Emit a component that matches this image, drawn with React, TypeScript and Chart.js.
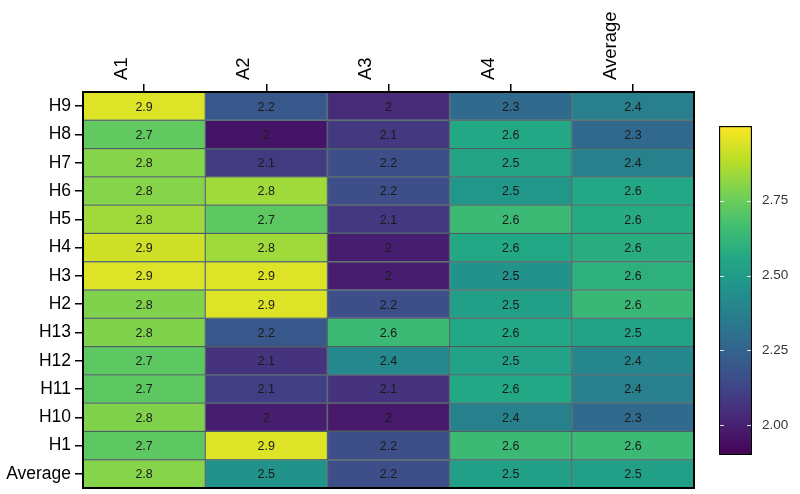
import React, { useEffect, useRef } from "react";
import { Chart, registerables } from "chart.js";

Chart.register(...registerables);

const rowLabels = ["H9", "H8", "H7", "H6", "H5", "H4", "H3", "H2", "H13", "H12", "H11", "H10", "H1", "Average"];
const colLabels = ["A1", "A2", "A3", "A4", "Average"];
const a1 = [2.945, 2.73, 2.8, 2.8, 2.84, 2.92, 2.945, 2.79, 2.79, 2.72, 2.72, 2.79, 2.72, 2.8];
const a2 = [2.2, 1.96, 2.09, 2.84, 2.72, 2.84, 2.945, 2.945, 2.2, 2.06, 2.1, 1.99, 2.945, 2.46];
const a3 = [2.03, 2.08, 2.16, 2.16, 2.08, 1.99, 1.99, 2.16, 2.64, 2.41, 2.06, 1.98, 2.16, 2.16];
const a4 = [2.28, 2.56, 2.54, 2.48, 2.64, 2.56, 2.46, 2.52, 2.56, 2.53, 2.56, 2.38, 2.64, 2.52];
const avg = [2.37, 2.27, 2.38, 2.56, 2.57, 2.58, 2.6, 2.63, 2.53, 2.4, 2.37, 2.28, 2.64, 2.52];
const columns = [a1, a2, a3, a4, avg];
const scaleMin = 1.9;
const scaleMax = 3.0;
const colorbarTicks = [2.0, 2.25, 2.5, 2.75];

const FONT = "'Liberation Sans', Arial, sans-serif";

const viridisStops = [
  [68, 1, 84],
  [72, 36, 117],
  [65, 68, 135],
  [53, 95, 141],
  [42, 120, 142],
  [33, 145, 140],
  [34, 168, 132],
  [68, 191, 112],
  [122, 209, 81],
  [189, 223, 38],
  [253, 231, 37],
];

function viridis(t: number): string {
  const tt = Math.max(0, Math.min(1, t)) * (viridisStops.length - 1);
  const i = Math.min(Math.floor(tt), viridisStops.length - 2);
  const f = tt - i;
  const a = viridisStops[i];
  const b = viridisStops[i + 1];
  const c = a.map((v, k) => Math.round(v + (b[k] - v) * f));
  return `rgb(${c[0]},${c[1]},${c[2]})`;
}

function colorFor(v: number): string {
  return viridis((v - scaleMin) / (scaleMax - scaleMin));
}

function fmt(v: number): string {
  return String(Math.round(v * 10) / 10);
}

export default function App() {
  const mainRef = useRef<HTMLCanvasElement>(null);
  const cbRef = useRef<HTMLCanvasElement>(null);

  useEffect(() => {
    document.body.style.margin = "0";
    const labelPlugin = {
      id: "cellLabels",
      afterDatasetsDraw(chart: any) {
        const ctx = chart.ctx;
        ctx.save();
        ctx.font = `12.5px ${FONT}`;
        ctx.fillStyle = "#1a1a1a";
        ctx.textAlign = "center";
        ctx.textBaseline = "middle";
        chart.data.datasets.forEach((ds: any, di: number) => {
          const meta = chart.getDatasetMeta(di);
          meta.data.forEach((el: any, i: number) => {
            const p = el.getCenterPoint();
            ctx.fillText(fmt(columns[di][i]), p.x, p.y + 1);
          });
        });
        ctx.restore();
      },
      afterDraw(chart: any) {
        const { left, top, right, bottom } = chart.chartArea;
        const ctx = chart.ctx;
        ctx.save();
        ctx.strokeStyle = "#000";
        ctx.lineWidth = 2;
        ctx.strokeRect(left, top, right - left, bottom - top);
        ctx.restore();
      },
    };

    const main = new Chart(mainRef.current!, {
      type: "bar",
      data: {
        labels: rowLabels,
        datasets: columns.map((vals, c) => ({
          label: colLabels[c],
          data: vals.map(() => [c, c + 1]),
          backgroundColor: vals.map(colorFor),
          borderColor: "rgba(10,40,40,0.6)",
          borderWidth: 1,
          borderSkipped: false,
          barPercentage: 1,
          categoryPercentage: 1,
          grouped: false,
        })) as any,
      },
      options: {
        indexAxis: "y",
        animation: false,
        responsive: false,
        devicePixelRatio: 1,
        layout: { padding: { left: 0, right: 106, top: 0, bottom: 6 } },
        plugins: { legend: { display: false }, tooltip: { enabled: false } },
        scales: {
          x: {
            type: "linear",
            position: "top",
            min: 0,
            max: 5,
            afterBuildTicks: (s: any) => {
              s.ticks = colLabels.map((_, i) => ({ value: i + 0.5 }));
            },
            afterFit: (s: any) => {
              s.height = 92;
              s.paddingLeft = 0;
              s.paddingRight = 0;
            },
            ticks: {
              autoSkip: false,
              minRotation: 90,
              maxRotation: 90,
              padding: 4,
              color: "#000",
              font: { family: FONT, size: 18.5 },
              callback: (_v: any, i: number) => colLabels[i],
            },
            grid: { drawOnChartArea: false, drawTicks: true, tickLength: 8, color: "#000", lineWidth: 1.5 },
            border: { display: false },
          },
          y: {
            type: "category",
            afterFit: (s: any) => {
              s.width = 83;
              s.paddingTop = 0;
              s.paddingBottom = 0;
            },
            ticks: {
              padding: 4,
              color: "#000",
              font: { family: FONT, size: 17.5 },
            },
            grid: { drawOnChartArea: false, drawTicks: true, tickLength: 8, color: "#000", lineWidth: 1.5, offset: false },
            border: { display: false },
          },
        },
      } as any,
      plugins: [labelPlugin],
    });

    const cbPlugin = {
      id: "cbTicks",
      afterDraw(chart: any) {
        const { left, right } = chart.chartArea;
        const ys = chart.scales.y;
        const ctx = chart.ctx;
        ctx.save();
        ctx.strokeStyle = "rgba(255,255,255,0.85)";
        ctx.lineWidth = 1;
        colorbarTicks.forEach((v) => {
          const y = Math.round(ys.getPixelForValue(v)) + 0.5;
          ctx.beginPath();
          ctx.moveTo(left + 1, y);
          ctx.lineTo(left + 5, y);
          ctx.moveTo(right - 5, y);
          ctx.lineTo(right - 1, y);
          ctx.stroke();
        });
        ctx.restore();
      },
    };

    const cb = new Chart(cbRef.current!, {
      type: "bar",
      data: {
        labels: [""],
        datasets: [
          {
            data: [[scaleMin, scaleMax]],
            backgroundColor: (c: any) => {
              const area = c.chart.chartArea;
              if (!area) return "#888";
              const g = c.chart.ctx.createLinearGradient(0, area.bottom, 0, area.top);
              for (let i = 0; i <= 20; i++) {
                const t = i / 20;
                g.addColorStop(t, viridis(t));
              }
              return g;
            },
            borderColor: "#000",
            borderWidth: 1.5,
            borderSkipped: false,
            barPercentage: 1,
            categoryPercentage: 1,
          },
        ] as any,
      },
      options: {
        animation: false,
        responsive: false,
        devicePixelRatio: 1,
        layout: { padding: { left: 19, right: 0, top: 126, bottom: 39 } },
        plugins: { legend: { display: false }, tooltip: { enabled: false } },
        scales: {
          x: { display: false },
          y: {
            type: "linear",
            position: "right",
            min: scaleMin,
            max: scaleMax,
            afterBuildTicks: (s: any) => {
              s.ticks = colorbarTicks.map((v) => ({ value: v }));
            },
            afterFit: (s: any) => {
              s.width = 48;
              s.paddingTop = 0;
              s.paddingBottom = 0;
            },
            ticks: {
              padding: 2,
              color: "#333",
              font: { family: FONT, size: 13.5 },
              callback: (v: any) => Number(v).toFixed(2),
            },
            grid: { display: false },
            border: { display: false },
          },
        },
      } as any,
      plugins: [cbPlugin],
    });

    return () => {
      main.destroy();
      cb.destroy();
    };
  }, []);

  return (
    <div style={{ position: "fixed", left: 0, top: 0, width: 800, height: 494, background: "#fff" }}>
      <canvas ref={mainRef} width={800} height={494} style={{ position: "absolute", left: 0, top: 0 }} />
      <canvas ref={cbRef} width={100} height={494} style={{ position: "absolute", left: 700, top: 0 }} />
    </div>
  );
}
